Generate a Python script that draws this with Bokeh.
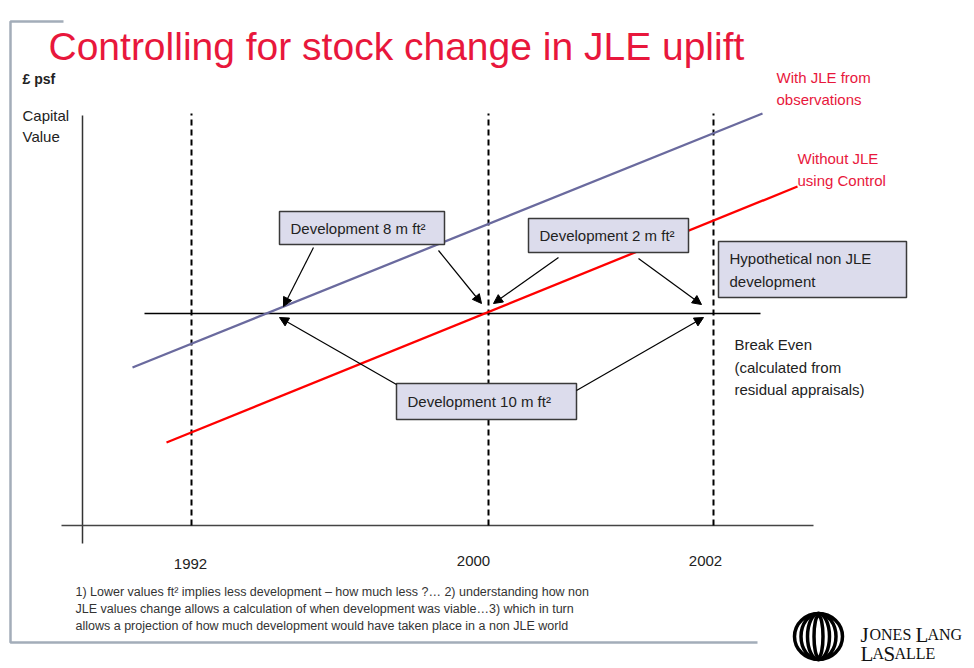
from bokeh.plotting import figure
from bokeh.models import Range1d, Arrow, NormalHead, ColumnDataSource
from bokeh.core.properties import value
from bokeh.embed import file_html
from bokeh.resources import INLINE

# ---- schematic data (x = schematic time, y = capital value, axis origin at 0,0) ----
years = ["1992", "2000", "2002"]
year_x = [109, 406, 631]
year_label_x = [108, 391, 623]
year_label_y = [-38, -35, -35]
marker_top = 412

break_even = 212
break_even_x = [62, 678]

with_jle_x = [50, 680]
with_jle_y = [158, 412]
without_jle_x = [84, 715]
without_jle_y = [83, 339]

box_texts = ["Development 8 m ft\u00b2", "Development 2 m ft\u00b2", "Development 10 m ft\u00b2"]
box_left = [197, 446, 314]
box_right = [362, 606, 494]
box_top = [314, 307, 142]
box_bottom = [281, 273, 106]

hyp_box = [636, 824, 284, 228]
hyp_text = ["Hypothetical non JLE", "development"]

arrow_x_start = [231, 356, 476, 556, 314, 494]
arrow_y_start = [278, 275, 268, 267, 141, 135]
arrow_x_end = [201, 399, 411, 619, 197, 621]
arrow_y_end = [219, 222, 222, 221, 208, 208]

footnote = [
    "1) Lower values ft\u00b2 implies less development \u2013 how much less ?\u2026  2) understanding how non",
    "JLE values change allows a calculation of when development was viable\u20263) which in turn",
    "allows a projection of how much development would have taken place in a non JLE world",
]

FONT = value("Liberation Sans")
RED = "#e8173c"
BLUE = "#6a6a9e"
DARK = "#222222"

p = figure(width=974, height=668, output_backend="svg", toolbar_location=None,
           x_range=Range1d(-82, 892), y_range=Range1d(-143, 525),
           x_axis_location=None, y_axis_location=None, min_border=0,
           outline_line_color=None, background_fill_color="white")
p.xgrid.visible = False
p.ygrid.visible = False

# slide frame
p.line([-19, -72, -72, 675], [504, 504, -117, -117], line_color="#a3adb9", line_width=2.5)

# title
p.text([-34], [479], text=["Controlling for stock change in JLE uplift"], text_font=FONT,
       text_font_size="39px", text_color=RED, text_baseline="alphabetic")

# y labels
p.text([-60], [447], text=["\u00a3 psf"], text_font=FONT, text_font_size="14px",
       text_font_style="bold", text_color=DARK, text_baseline="middle")
p.text([-60, -60], [410, 389], text=["Capital", "Value"], text_font=FONT,
       text_font_size="15px", text_color=DARK, text_baseline="middle")

# axes
p.line([0, 0], [410, -18], line_color="#333333", line_width=1.5)
p.line([-21, 731], [0, 0], line_color="#444444", line_width=1.5)

# dashed year markers
p.multi_line([[x, x] for x in year_x], [[0, marker_top]] * len(year_x),
             line_color="black", line_width=2, line_dash="6 4")
p.text(year_label_x, year_label_y, text=years, text_font=FONT, text_font_size="15px",
       text_color=DARK, text_align="center", text_baseline="middle")

# break-even line
p.line(break_even_x, [break_even, break_even], line_color="black", line_width=1.3)

# value lines
p.line(with_jle_x, with_jle_y, line_color=BLUE, line_width=2.3)
p.line(without_jle_x, without_jle_y, line_color="#ff0000", line_width=2.3)

p.text([694, 694], [448, 426], text=["With JLE from", "observations"], text_font=FONT,
       text_font_size="15px", text_color=RED, text_baseline="middle")
p.text([715, 715], [367, 345], text=["Without JLE", "using Control"], text_font=FONT,
       text_font_size="15px", text_color=RED, text_baseline="middle")
p.text([652, 652, 652], [181, 158, 136],
       text=["Break Even", "(calculated from", "residual appraisals)"], text_font=FONT,
       text_font_size="15px", text_color=DARK, text_baseline="middle")

# boxes
BOX_FILL = "#dcdcec"
p.quad(left=box_left, right=box_right, top=box_top, bottom=box_bottom,
       fill_color=BOX_FILL, line_color="#3a3a3a", line_width=1.5)
p.text([l + 11 for l in box_left], [(t + b) / 2 for t, b in zip(box_top, box_bottom)],
       text=box_texts, text_font=FONT, text_font_size="15px", text_color=DARK,
       text_baseline="middle")
p.quad(left=[hyp_box[0]], right=[hyp_box[1]], top=[hyp_box[2]], bottom=[hyp_box[3]],
       fill_color=BOX_FILL, line_color="#3a3a3a", line_width=1.5)
p.text([hyp_box[0] + 11] * 2, [hyp_box[2] - 17, hyp_box[2] - 40], text=hyp_text,
       text_font=FONT, text_font_size="15px", text_color=DARK, text_baseline="middle")

# arrows
asrc = ColumnDataSource(dict(xs=arrow_x_start, ys=arrow_y_start, xe=arrow_x_end, ye=arrow_y_end))
p.add_layout(Arrow(end=NormalHead(size=9, fill_color="black", line_color="black"),
                   x_start="xs", y_start="ys", x_end="xe", y_end="ye",
                   source=asrc, line_color="black", line_width=1.2))

# footnote
p.text([-7, -7, -7], [-66, -83, -100], text=footnote, text_font=FONT,
       text_font_size="12.5px", text_color="#333333", text_baseline="middle")

# logo
p.ellipse([736] * 4, [-111] * 4, width=[48, 35, 22, 9], height=[46, 46, 46, 42],
          fill_color=None, line_color="black", line_width=3.5)
SERIF = value("Liberation Serif")
p.text([778, 787], [-109, -109], text=["J", "ONES"], text_font=SERIF,
       text_font_size=["21px", "16px"], text_color="#111111", text_baseline="alphabetic")
p.text([833, 845], [-109, -109], text=["L", "ANG"], text_font=SERIF,
       text_font_size=["21px", "16px"], text_color="#111111", text_baseline="alphabetic")
p.text([778, 790, 801, 812], [-128] * 4, text=["L", "A", "S", "ALLE"], text_font=SERIF,
       text_font_size=["21px", "16px", "21px", "16px"], text_color="#111111",
       text_baseline="alphabetic")

open("out.html", "w").write(file_html(p, INLINE))
